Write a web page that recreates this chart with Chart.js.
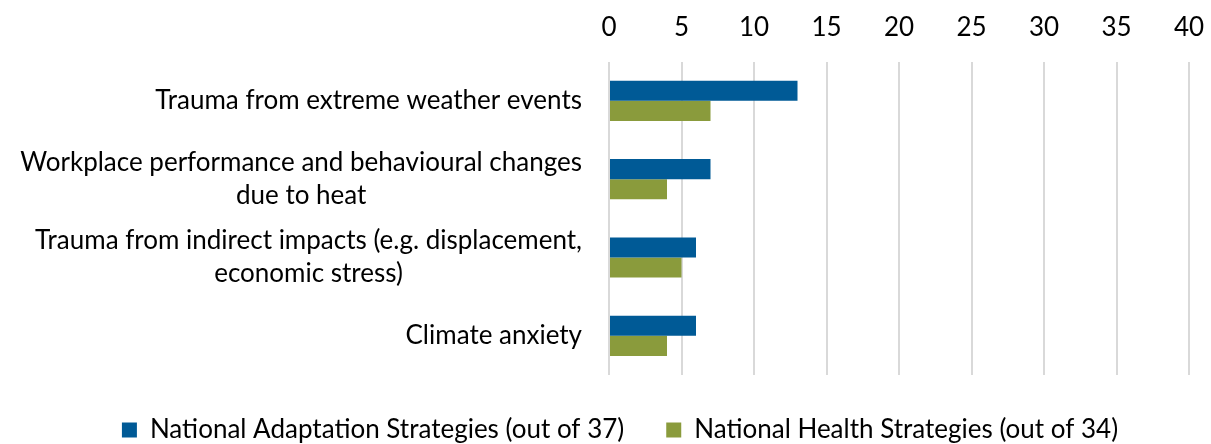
<!DOCTYPE html>
<html>
<head>
<meta charset="utf-8">
<script src="https://cdn.jsdelivr.net/npm/chart.js@4/dist/chart.umd.min.js"></script>
<style>
  html, body { margin: 0; padding: 0; background: #ffffff; }
  #wrap { width: 1211px; height: 444px; position: relative; }
</style>
</head>
<body>
<div id="wrap"><canvas id="c" width="1211" height="444"></canvas></div>
<script>
const categories = [
  ["Trauma from extreme weather events"],
  ["Workplace performance and behavioural changes", "due to heat"],
  ["Trauma from indirect impacts (e.g. displacement,", "economic stress)"],
  ["Climate anxiety"]
];
const seriesNames = [
  "National Adaptation Strategies (out of 37)",
  "National Health Strategies (out of 34)"
];
const adaptationValues = [13, 7, 6, 6];
const healthValues = [7, 4, 5, 4];
const xTicks = [0, 5, 10, 15, 20, 25, 30, 35, 40];

const FONT = "Lato, 'Open Sans', 'Liberation Sans', sans-serif";
const FONT_SIZE = 26;

const yLabelPlugin = {
  id: 'yLabels',
  afterDraw(chart) {
    const ctx = chart.ctx;
    const yScale = chart.scales.y;
    const right = chart.chartArea.left - 27;
    const lineH = 33;
    ctx.save();
    ctx.font = FONT_SIZE + "px " + FONT;
    ctx.fillStyle = '#000000';
    ctx.textAlign = 'center';
    ctx.textBaseline = 'middle';
    categories.forEach((lines, i) => {
      const cy = yScale.getPixelForValue(i);
      const maxW = Math.max(...lines.map(l => ctx.measureText(l).width));
      const cx = right - maxW / 2;
      const start = cy - (lines.length - 1) * lineH / 2;
      lines.forEach((l, j) => ctx.fillText(l, cx, start + j * lineH));
    });
    ctx.restore();
  }
};

const LEFT_PAD = 51;

new Chart(document.getElementById('c'), {
  type: 'bar',
  data: {
    labels: categories,
    datasets: [
      { label: seriesNames[0], data: adaptationValues, backgroundColor: '#005A96', borderWidth: 0 },
      { label: seriesNames[1], data: healthValues, backgroundColor: '#8A9B3C', borderWidth: 0 }
    ]
  },
  options: {
    indexAxis: 'y',
    responsive: false,
    animation: false,
    maintainAspectRatio: false,
    layout: { padding: { top: -7, right: 22, left: LEFT_PAD, bottom: -9 } },
    datasets: { bar: { barPercentage: 1, categoryPercentage: 0.513 } },
    scales: {
      x: {
        position: 'top',
        min: 0, max: 40,
        afterBuildTicks(scale) { scale.ticks = xTicks.map(v => ({ value: v })); },
        afterFit(scale) { scale.paddingRight = 0; scale.paddingLeft = 0; },
        ticks: {
          color: '#000000',
          font: { family: FONT, size: FONT_SIZE, lineHeight: 0.95 },
          padding: 22,
          maxRotation: 0
        },
        grid: { color: '#d9d9d9', lineWidth: 2, drawTicks: false },
        border: { display: false }
      },
      y: {
        grid: { display: false },
        border: { display: false },
        ticks: { display: false },
        afterFit(scale) { scale.width = 609 - LEFT_PAD; }
      }
    },
    plugins: {
      legend: {
        position: 'bottom',
        labels: {
          color: '#000000',
          font: { family: FONT, size: FONT_SIZE },
          boxWidth: 15, boxHeight: 15,
          padding: 42
        }
      },
      tooltip: { enabled: false }
    }
  },
  plugins: [yLabelPlugin]
});
</script>
</body>
</html>
